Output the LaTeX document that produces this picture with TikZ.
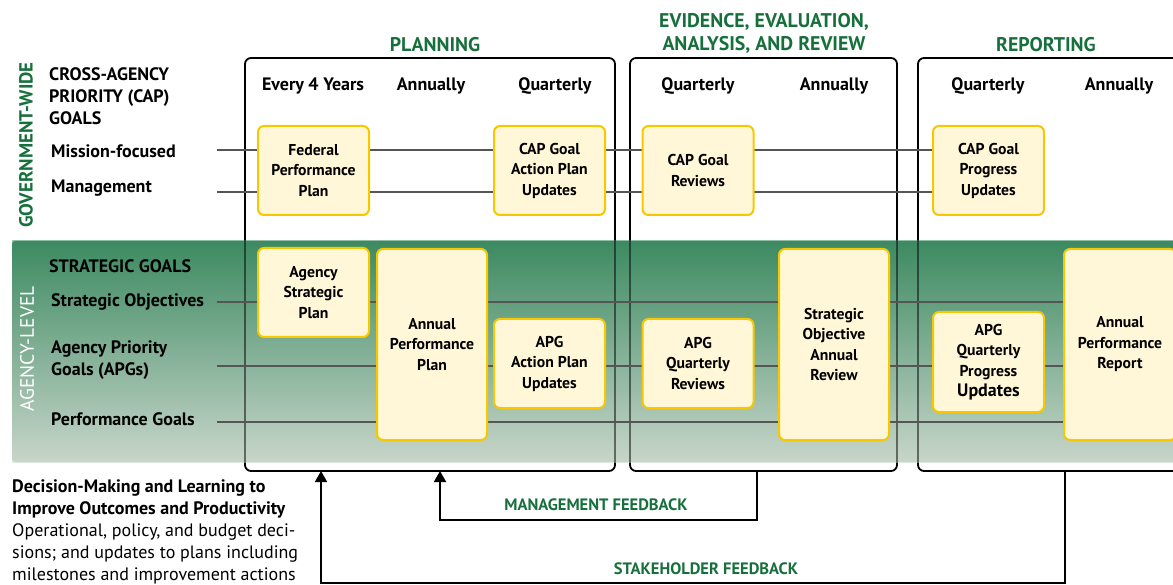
\documentclass[tikz,border=0pt]{standalone}
\usepackage{fontspec}
\setmainfont{PT Sans}
\usetikzlibrary{arrows.meta}
\definecolor{hdgreen}{HTML}{17703C}
\definecolor{boxgold}{HTML}{F7C800}
\definecolor{boxfill}{HTML}{FFF7D7}
\definecolor{bandtop}{HTML}{3C8A62}
\definecolor{bandbot}{HTML}{C8D5C9}
\definecolor{linegrey}{HTML}{555555}
\newcommand\fsz[2]{\fontsize{#1}{#2}\selectfont}
\pgfdeclarelayer{bg}
\pgfdeclarelayer{lines}
\pgfsetlayers{bg,lines,main}
\begin{document}
\begin{tikzpicture}[x=1pt,y=-1pt,
  hdr/.style={text=hdgreen, font=\bfseries\fsz{19.8}{23}, align=center, inner sep=0},
  col/.style={font=\bfseries\fsz{18}{20}, inner sep=0},
  lbl/.style={font=\bfseries\fsz{18}{22}, anchor=west, inner sep=0, align=left},
  pbox/.style={draw=boxgold, line width=2pt, fill=boxfill, rounded corners=6pt,
    align=center, font=\bfseries\fsz{15.7}{20.5}, inner sep=0, minimum width=111pt},
  frame/.style={draw=black, line width=1.8pt, rounded corners=6pt},
  conn/.style={draw=linegrey, line width=1.2pt},
  fb/.style={draw=black, line width=1.8pt},
  fblbl/.style={text=hdgreen, font=\bfseries\fsz{16.5}{17}, inner sep=0}]
\useasboundingbox (0,0) rectangle (1173,585);

% band, phase frames, and a translucent veil of the band over the frames
\begin{pgfonlayer}{bg}
  \shade[top color=bandtop, bottom color=bandbot, rounded corners=3pt]
    (12,241) rectangle (1185,462);
  \draw[frame] (245,58) rectangle (615,471);
  \draw[frame] (630,58) rectangle (897,471);
  \draw[frame] (918,58) rectangle (1195,471);
  \begin{scope}
    \clip (12,241) rectangle (1185,462);
    \shade[top color=bandtop, bottom color=bandbot, fill opacity=0.5]
      (12,241) rectangle (1185,462);
  \end{scope}
\end{pgfonlayer}

% phase headings
\node[hdr] (hplan) at (435,45) {PLANNING};
\node[hdr] (hevid) at (764,33.5) {EVIDENCE, EVALUATION,\\ANALYSIS, AND REVIEW};
\node[hdr] (hrep) at (1046,45) {REPORTING};

% frequency columns
\node[col] (c1) at (313,86) {Every 4 Years};
\node[col] (c2) at (431,86) {Annually};
\node[col] (c3) at (555,86) {Quarterly};
\node[col] (c4) at (698,86) {Quarterly};
\node[col] (c5) at (834,86) {Annually};
\node[col] (c6) at (988,86) {Quarterly};
\node[col] (c7) at (1119,86) {Annually};

% row labels
\node[rotate=90, text=hdgreen, font=\bfseries\fsz{19}{19}, inner sep=0] (gw) at (26,145) {GOVERNMENT-WIDE};
\node[rotate=90, text=white, font=\fsz{19.4}{19}, inner sep=0] (al) at (27,349) {AGENCY-LEVEL};
\node[lbl] (cap) at (49,96) {CROSS-AGENCY\\PRIORITY (CAP)\\GOALS};
\node[lbl] (mis) at (51,151) {Mission-focused};
\node[lbl] (mgt) at (51,188) {Management};
\node[lbl] (sg) at (49,266) {STRATEGIC GOALS};
\node[lbl] (so) at (51,302) {Strategic Objectives};
\node[lbl] (apg) at (51,360) {Agency Priority\\Goals (APGs)};
\node[lbl] (pg) at (51,419) {Performance Goals};

% plan, review and report boxes
\node[pbox, minimum height=89pt] (fpp) at (313.5,170.5) {Federal\\Performance\\Plan};
\node[pbox, minimum height=89pt] (capap) at (549.5,170.5) {CAP Goal\\Action Plan\\Updates};
\node[pbox, minimum height=89pt] (caprev) at (698,170.5) {CAP Goal\\Reviews};
\node[pbox, minimum height=89pt] (capprog) at (988.5,170.5) {CAP Goal\\Progress\\Updates};
\node[pbox, minimum height=89pt] (asp) at (313.5,292.5) {Agency\\Strategic\\Plan};
\node[pbox, minimum width=110pt, minimum height=191pt] (app) at (432,344.5) {Annual\\Performance\\Plan};
\node[pbox, minimum height=89pt] (apgap) at (549.5,363.5) {APG\\Action Plan\\Updates};
\node[pbox, minimum height=89pt] (apgqr) at (698,363.5) {APG\\Quarterly\\Reviews};
\node[pbox, minimum width=110pt, minimum height=191pt] (soar) at (834,344.5) {Strategic\\Objective\\Annual\\Review};
\node[pbox, minimum height=100pt] (apgqpu) at (988.5,362) {APG\\Quarterly\\Progress\\{\fsz{18}{20.5}Updates}};
\node[pbox, minimum width=112pt, minimum height=191pt] (apr) at (1120,344.5) {Annual\\Performance\\Report};

% goal lines running behind the boxes
\coordinate (r1) at (217,150);
\coordinate (r2) at (217,192);
\coordinate (r3) at (217,302);
\coordinate (r4) at (217,366);
\coordinate (r5) at (217,422);
\begin{pgfonlayer}{lines}
  \draw[conn] (r1) -- (r1 -| capprog.west);
  \draw[conn] (r2) -- (r2 -| capprog.west);
  \draw[conn] (r3) -- (r3 -| apr.west);
  \draw[conn] (r4) -- (r4 -| apr.west);
  \draw[conn] (r5) -- (r5 -| apr.west);
\end{pgfonlayer}

% feedback loops
\coordinate (mfrom) at (757,471);
\coordinate (mto) at (440,471);
\coordinate (sfrom) at (1065,471);
\coordinate (sto) at (321,471);
\draw[fb, -{Triangle[width=12pt,length=11pt]}] (mfrom) -- ++(0,49) -| (mto);
\draw[fb, -{Triangle[width=12pt,length=11pt]}] (sfrom) -- ++(0,112) -| (sto);
\node[fblbl] (mfl) at (596,505) {MANAGEMENT FEEDBACK};
\node[fblbl] (sfl) at (706,569) {STAKEHOLDER FEEDBACK};

% decision-making note
\node[anchor=north west, align=left, inner sep=0, font=\fsz{18}{22}] (note) at (12,479)
  {\textbf{Decision-Making and Learning to}\\
   \textbf{Improve Outcomes and Productivity}\\
   Operational, policy, and budget deci-\\
   sions; and updates to plans including\\
   milestones and improvement actions};
\end{tikzpicture}
\end{document}
